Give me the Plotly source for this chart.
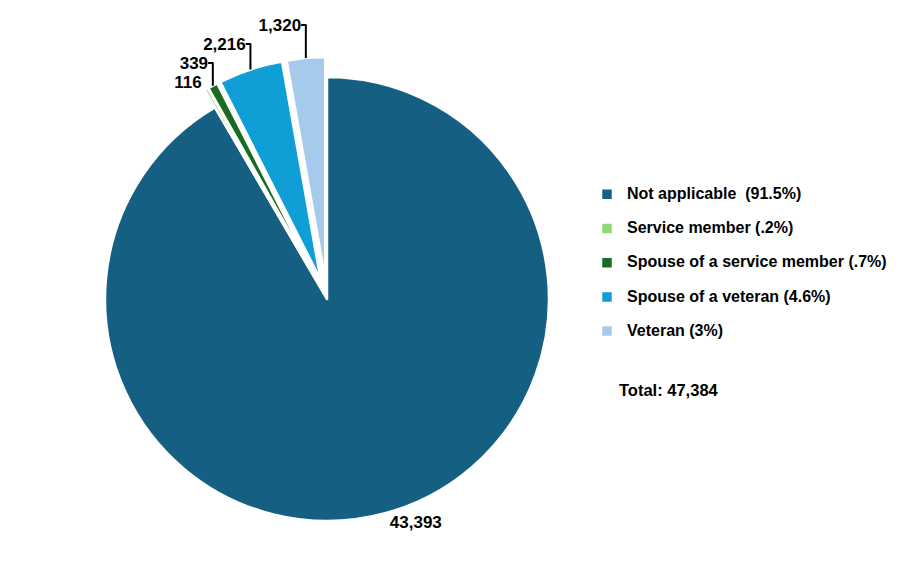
import plotly.graph_objects as go

categories = ["Not applicable", "Service member", "Spouse of a service member",
              "Spouse of a veteran", "Veteran"]
pct_labels = ["  (91.5%)", " (.2%)", " (.7%)", " (4.6%)", " (3%)"]
values = [43393, 116, 339, 2216, 1320]
colors = ["#156082", "#8ED973", "#196B24", "#0F9ED5", "#A6CAEC"]
pulls = [0, 0.09, 0.09, 0.09, 0.09]
total = 47384

legend_labels = [
    f"<span style='font-size:16px'>{c}{p}</span><br> "
    for c, p in zip(categories, pct_labels)
]

W, H = 904, 571
OFF = 8  # page body margin offset
cx, cy = 327 - OFF, 299 - OFF
R = 222
half = R * (1 + max(pulls))

fig = go.Figure(go.Pie(
    labels=legend_labels,
    values=values,
    sort=False,
    direction="clockwise",
    rotation=0,
    pull=pulls,
    automargin=False,
    marker=dict(colors=colors, line=dict(color="white", width=2.5)),
    texttemplate="%{value:,}",
    textposition="outside",
    textfont=dict(family="Liberation Sans", size=17, color="#000000", weight="bold"),
    hoverinfo="value",
    domain=dict(x=[(cx - half) / W, (cx + half) / W],
                y=[(H - cy - half) / H, (H - cy + half) / H]),
))

fig.add_annotation(
    text=f"Total: {total:,}",
    x=(617 - OFF) / W, y=1 - (390 - OFF) / H, xref="paper", yref="paper",
    xanchor="left", yanchor="middle", showarrow=False,
    font=dict(family="Liberation Sans", size=16.5, color="#000000", weight="bold"),
)

fig.update_layout(
    width=W, height=H,
    margin=dict(l=0, r=0, t=0, b=0, autoexpand=False),
    paper_bgcolor="white",
    plot_bgcolor="white",
    showlegend=True,
    legend=dict(
        x=579 / W, y=1 - 172 / H, xanchor="left", yanchor="top",
        font=dict(family="Liberation Sans", size=12, color="#000000", weight="bold"),
        valign="top",
        itemwidth=30,
    ),
)

fig.write_html("out.html")
